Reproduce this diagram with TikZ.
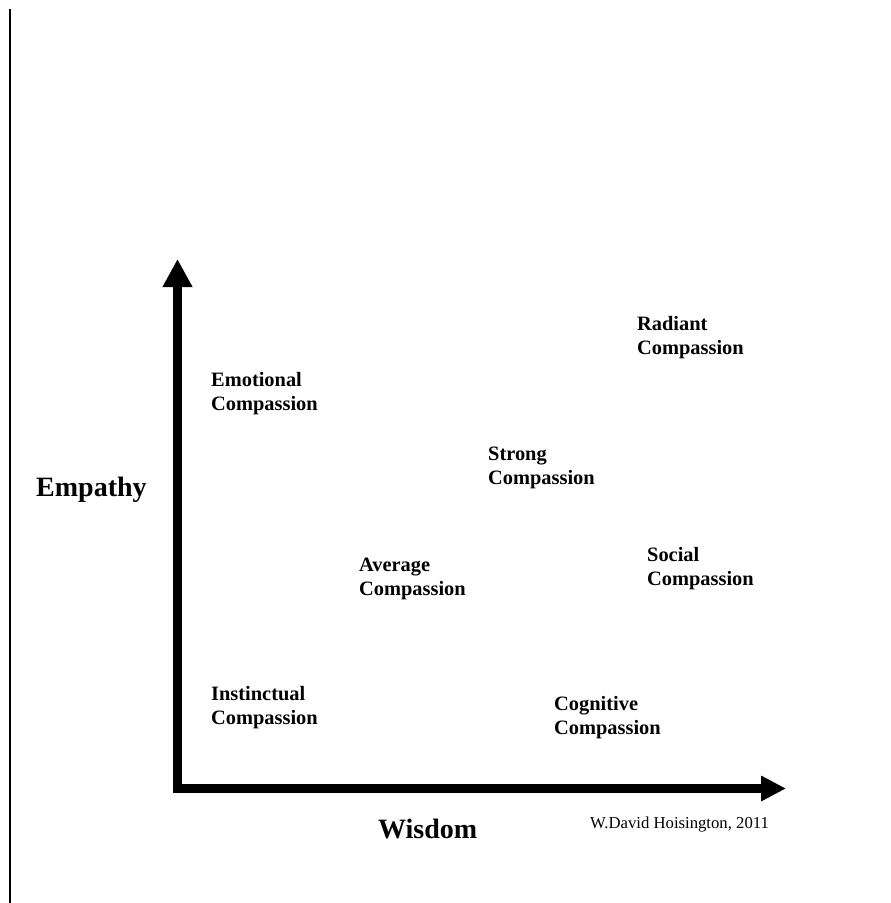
\documentclass[tikz,border=0pt]{standalone}
\usepackage{fontspec}
\setmainfont{Liberation Serif}
\usetikzlibrary{positioning, arrows.meta}

\begin{document}
\begin{tikzpicture}[x=1pt, y=-1pt,
  lbl/.style={anchor=base west, inner sep=0pt, align=left, font=\fontsize{20.4}{24}\selectfont\bfseries},
  axislbl/.style={anchor=base west, inner sep=0pt, font=\fontsize{28}{30}\selectfont\bfseries},
  axis/.style={line width=9pt, line join=miter}
]
\useasboundingbox (0,0) rectangle (891,903);
\draw[line width=1.5pt] (10,9) -- (10,903);

\coordinate (origin) at (177.5,788.5);
\coordinate (ytip) at (177.5,259);
\coordinate (xtip) at (786,788.5);
\draw[axis, {Triangle[length=28pt, width=28pt]}-{Triangle[length=25pt, width=24pt]}] (ytip) -- (origin) -- (xtip);

\node[axislbl] (empathy) at (36,496) {Empathy};
\node[axislbl] (wisdom) at (378,838) {Wisdom};
\node[anchor=base west, inner sep=0pt, font=\fontsize{16.7}{18}\selectfont] (credit) at (590,828) {W.David Hoisington, 2011};

% anchored at the baseline of the last line
\node[lbl] (radiant) at (637,354) {Radiant\\Compassion};
\node[lbl] (emotional) at (211,410) {Emotional\\Compassion};
\node[lbl] (strong) at (488,484) {Strong\\Compassion};
\node[lbl] (social) at (647,585) {Social\\Compassion};
\node[lbl] (average) at (359,595) {Average\\Compassion};
\node[lbl] (instinctual) at (211,724) {Instinctual\\Compassion};
\node[lbl] (cognitive) at (554,734) {Cognitive\\Compassion};
\end{tikzpicture}
\end{document}
